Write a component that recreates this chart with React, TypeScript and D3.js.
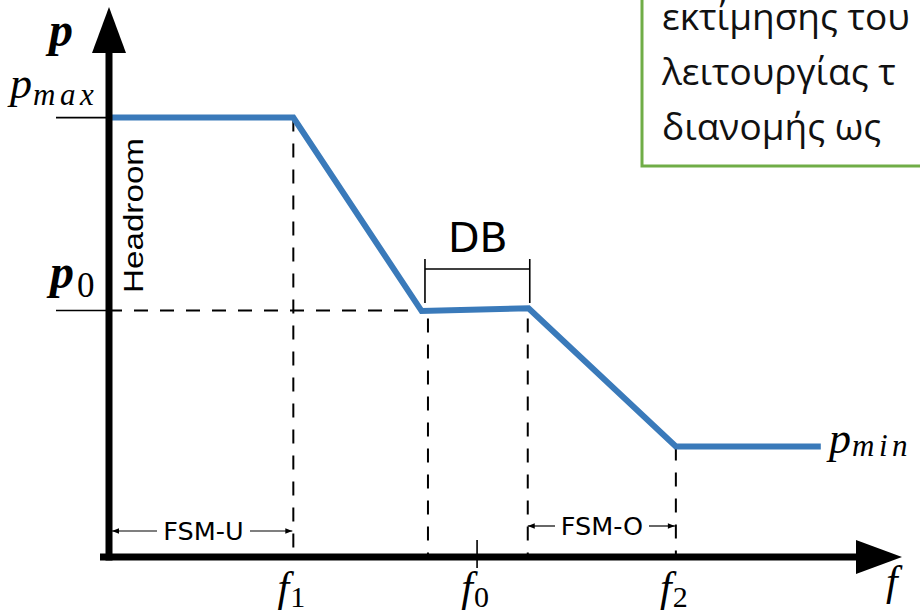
import React from "react";
import * as d3 from "d3";

// ---- data ----
const curveF = [0, 23.4, 39.6, 53.1, 71.7, 90];
const curveP = [80, 80, 44.7, 45.2, 20, 20];
const pMax = 80;
const p0 = 44.8;
const pMin = 20;
const freqSubs = ["1", "0", "2"];
const freqValues = [23.4, 46.6, 71.7];
const dbEdges = [40.4, 53.0];
const dbLabel = "DB";
const fsmLabels = ["FSM-U", "FSM-O"];
const boxLines = ["εκτίμησης του", "λειτουργίας τ", "διανομής ως"];

const W = 920;
const H = 614;

export default function App() {
  const x = d3.scaleLinear().domain([0, 100]).range([108, 900]);
  const y = d3.scaleLinear().domain([0, 100]).range([556, 8]);
  const pts: [number, number][] = curveF.map((f, i) => [f, curveP[i]]);
  const line = d3
    .line<[number, number]>()
    .x((d) => x(d[0]))
    .y((d) => y(d[1]));

  const blue = "#3a7aba";
  const axisY = 557;
  const axisX = 109;
  const math = "'Liberation Serif', 'Times New Roman', serif";
  const sans = "'DejaVu Sans', Verdana, sans-serif";
  const dash = "14 12";

  const [f1, f0, f2] = freqValues;

  return (
    <svg
      width={W}
      height={H}
      viewBox={`0 0 ${W} ${H}`}
      style={{ position: "absolute", left: 0, top: 0, background: "#fff" }}
    >
      <defs>
        <marker id="ah" viewBox="0 0 10 10" refX="10" refY="5" markerWidth="9" markerHeight="7" orient="auto-start-reverse" markerUnits="userSpaceOnUse">
          <path d="M0,1 L10,5 L0,9 z" fill="#000" />
        </marker>
      </defs>
      <rect x={0} y={0} width={W} height={H} fill="#fff" />

      {/* green text box */}
      <rect x={642} y={-10} width={300} height={176} fill="#fff" stroke="#70ad47" strokeWidth={3} />
      {boxLines.map((t, i) => (
        <text key={i} x={662} y={30 + i * 55} fontFamily="'Open Sans', 'Noto Sans', sans-serif" fontSize={37} fill="#111">
          {t}
        </text>
      ))}

      {/* dashed guides */}
      <line x1={x(0)} x2={x(curveF[2])} y1={y(p0)} y2={y(p0)} stroke="#000" strokeWidth={2} strokeDasharray={dash} />
      <line x1={x(f1)} x2={x(f1)} y1={y(pMax)} y2={y(0)} stroke="#000" strokeWidth={2} strokeDasharray={dash} />
      {dbEdges.map((d, i) => (
        <line key={i} x1={x(d)} x2={x(d)} y1={y(p0) + 8} y2={y(0)} stroke="#000" strokeWidth={2} strokeDasharray={dash} />
      ))}
      <line x1={x(f2)} x2={x(f2)} y1={y(pMin)} y2={y(0)} stroke="#000" strokeWidth={2} strokeDasharray={dash} />

      {/* level ticks left */}
      <line x1={56} x2={axisX} y1={y(pMax)} y2={y(pMax)} stroke="#000" strokeWidth={1.6} />
      <line x1={56} x2={axisX} y1={y(p0)} y2={y(p0)} stroke="#000" strokeWidth={1.6} />

      {/* f0 tick */}
      <line x1={x(f0)} x2={x(f0)} y1={axisY - 17} y2={axisY + 11} stroke="#000" strokeWidth={1.6} />

      {/* DB bracket */}
      <line x1={x(dbEdges[0]) - 3} x2={x(dbEdges[1]) + 2} y1={269} y2={269} stroke="#000" strokeWidth={1.6} />
      <line x1={x(dbEdges[0]) - 3} x2={x(dbEdges[0]) - 3} y1={259} y2={303} stroke="#000" strokeWidth={1.6} />
      <line x1={x(dbEdges[1]) + 2} x2={x(dbEdges[1]) + 2} y1={259} y2={303} stroke="#000" strokeWidth={1.6} />
      <text x={(x(dbEdges[0]) + x(dbEdges[1])) / 2} y={252} textAnchor="middle" fontFamily={sans} fontSize={41} fill="#000">
        {dbLabel}
      </text>

      {/* FSM arrows */}
      <line x1={x(0) + 4} x2={157} y1={531} y2={531} stroke="#000" strokeWidth={1.2} markerStart="url(#ah)" />
      <line x1={250} x2={x(f1) - 1} y1={531} y2={531} stroke="#000" strokeWidth={1.2} markerEnd="url(#ah)" />
      <text x={203.5} y={540} textAnchor="middle" fontFamily={sans} fontSize={25.5} fill="#000">
        {fsmLabels[0]}
      </text>
      <line x1={x(dbEdges[1])} x2={555} y1={526} y2={526} stroke="#000" strokeWidth={1.2} markerStart="url(#ah)" />
      <line x1={649} x2={x(f2) - 1} y1={526} y2={526} stroke="#000" strokeWidth={1.2} markerEnd="url(#ah)" />
      <text x={602} y={535} textAnchor="middle" fontFamily={sans} fontSize={25.5} fill="#000">
        {fsmLabels[1]}
      </text>

      {/* Headroom */}
      <text
        transform={`translate(143, 215.5) rotate(-90)`}
        textAnchor="middle"
        fontFamily="'Liberation Sans', Arial, sans-serif"
        fontSize={27}
        textLength={155}
        lengthAdjust="spacingAndGlyphs"
        fill="#000"
      >
        Headroom
      </text>

      {/* curve */}
      <path d={line(pts) || ""} fill="none" stroke={blue} strokeWidth={6} strokeLinejoin="miter" />

      {/* axes */}
      <line x1={axisX} x2={axisX} y1={axisY + 3.5} y2={50} stroke="#000" strokeWidth={7} />
      <polygon points={`${axisX},7 ${axisX - 17},53 ${axisX + 17},53`} fill="#000" />
      <line x1={100} x2={860} y1={axisY} y2={axisY} stroke="#000" strokeWidth={7} />
      <polygon points={`902,${axisY} 856,${axisY - 17} 856,${axisY + 17}`} fill="#000" />

      {/* math labels */}
      <text x={49} y={46} fontFamily={math} fontStyle="italic" fontWeight="bold" fontSize={48} fill="#000">p</text>
      <text x={10} y={98} fontFamily={math} fontStyle="italic" fontSize={44} fill="#000">
        p<tspan fontSize={31} dy={7} dx={1} letterSpacing={4.5}>max</tspan>
      </text>
      <text x={50} y={288} fontFamily={math} fontStyle="italic" fontWeight="bold" fontSize={48} fill="#000">
        p<tspan fontStyle="normal" fontWeight="normal" fontSize={35} dy={9} dx={3}>0</tspan>
      </text>
      <text x={829} y={453} fontFamily={math} fontStyle="italic" fontSize={44} fill="#000">
        p<tspan fontSize={31} dy={3} dx={1} letterSpacing={4.5}>min</tspan>
      </text>
      {freqValues.map((v, i) => (
        <text key={i} x={x(v) - 2} y={601} textAnchor="middle" fontFamily={math} fontStyle="italic" fontSize={42} fill="#000">
          f<tspan fontStyle="normal" fontSize={30} dy={6} dx={1}>{freqSubs[i]}</tspan>
        </text>
      ))}
      <text x={886} y={595} fontFamily={math} fontStyle="italic" fontSize={42} fill="#000">f</text>
    </svg>
  );
}
